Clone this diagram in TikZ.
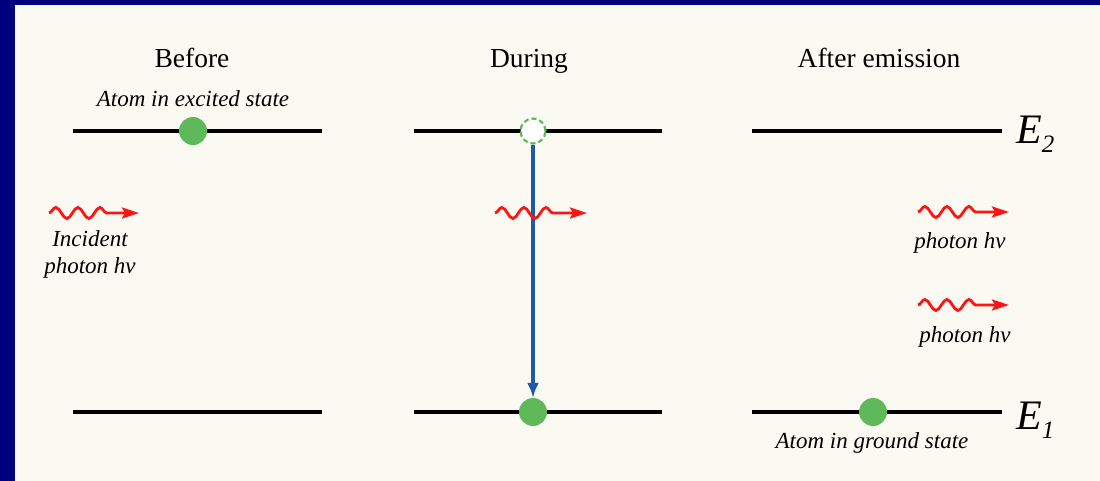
\documentclass[tikz,border=0pt]{standalone}
\usepackage{fontspec}
\setmainfont{Liberation Serif}
\usetikzlibrary{arrows.meta,decorations.pathmorphing}
\definecolor{slidenavy}{HTML}{00007E}
\definecolor{slidecream}{HTML}{FAFAF2}
\definecolor{atomgreen}{HTML}{5FB85A}
\definecolor{dropblue}{HTML}{1E5AA8}
\definecolor{photonred}{HTML}{FF1414}

\begin{document}
\begin{tikzpicture}[x=1pt,y=-1pt,
  level/.style={line width=4pt},
  atom/.style={circle,fill=atomgreen,minimum size=28pt,inner sep=0pt},
  hole/.style={circle,draw=atomgreen,dash pattern=on 5pt off 3pt,line width=2.2pt,fill=white,minimum size=25pt,inner sep=0pt},
  photon/.style={draw=photonred,line width=2.8pt,decorate,decoration={snake,amplitude=5.5pt,segment length=22pt,post length=24pt},-{Stealth[length=17pt,width=11pt,inset=3pt]}},
  drop/.style={draw=dropblue,line width=3.2pt,-{Latex[length=15pt,width=12pt]}},
  head/.style={font=\fontsize{27.5}{32}\selectfont,anchor=base},
  note/.style={font=\fontsize{23}{27}\selectfont\itshape,anchor=base},
  energy/.style={font=\fontsize{42}{46}\selectfont\itshape,anchor=base west,inner sep=0pt}
]
\useasboundingbox (0,0) rectangle (1100,481);
\fill[slidenavy] (0,0) rectangle (1100,481);
\fill[slidecream] (15,5) rectangle (1100,481);

% headings
\node[head] (before) at (192,68) {Before};
\node[head] (during) at (529,68) {During};
\node[head] (after) at (879,68) {After emission};

% energy levels
\coordinate (b2w) at (73,131);  \coordinate (b2e) at (322,131);
\coordinate (d2w) at (414,131); \coordinate (d2e) at (662,131);
\coordinate (a2w) at (752,131); \coordinate (a2e) at (1002,131);
\coordinate (b1w) at (73,412);  \coordinate (b1e) at (322,412);
\coordinate (d1w) at (414,412); \coordinate (d1e) at (662,412);
\coordinate (a1w) at (752,412); \coordinate (a1e) at (1002,412);
\draw[level] (b2w) -- (b2e);
\draw[level] (d2w) -- (d2e);
\draw[level] (a2w) -- (a2e);
\draw[level] (b1w) -- (b1e);
\draw[level] (d1w) -- (d1e);
\draw[level] (a1w) -- (a1e);
\node[energy] (e2) at (1016,144) {E\raisebox{-9pt}{\fontsize{25}{28}\selectfont 2}};
\node[energy] (e1) at (1016,429) {E\raisebox{-9pt}{\fontsize{25}{28}\selectfont 1}};

% atoms
\node[atom] (excited) at (193,131) {};
\node[hole] (empty) at (533,131) {};
\node[atom] (landed) at (533,412) {};
\node[atom] (ground) at (873,412) {};
\draw[drop] (empty) -- (landed);
\node[note] (exlabel) at (193,107) {Atom in excited state};
\node[note] (gslabel) at (872,448) {Atom in ground state};

% photons
\coordinate (in0) at (49,213);   \coordinate (in1) at (139,213);
\coordinate (st0) at (495,213);  \coordinate (st1) at (587,213);
\coordinate (ou0) at (918,212);  \coordinate (ou1) at (1009,212);
\coordinate (ov0) at (918,305);  \coordinate (ov1) at (1009,305);
\draw[photon] (in0) -- (in1);
\draw[photon] (st0) -- (st1);
\draw[photon] (ou0) -- (ou1);
\draw[photon] (ov0) -- (ov1);
\node[note] (incA) at (90,247) {Incident};
\node[note] (incB) at (90,273) {photon hν};
\node[note] (outA) at (960,248) {photon hν};
\node[note] (outB) at (965,342) {photon hν};
\end{tikzpicture}
\end{document}
